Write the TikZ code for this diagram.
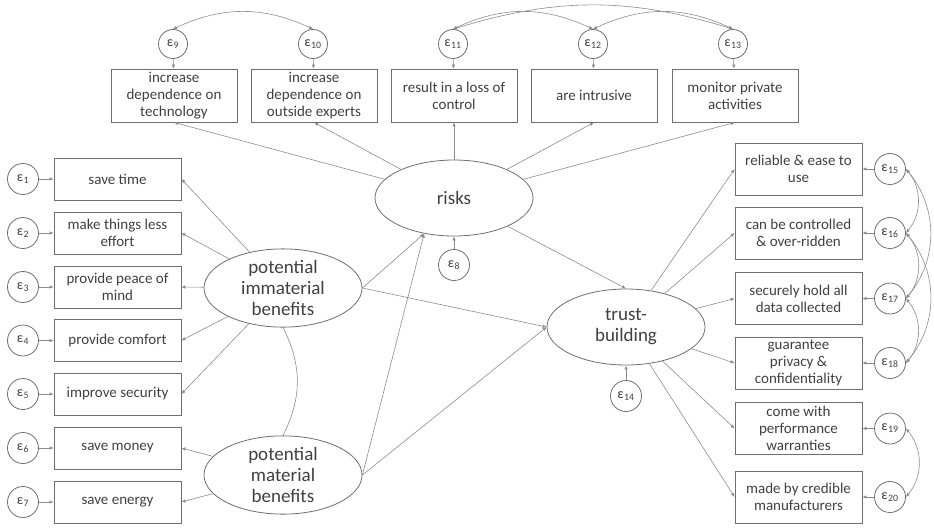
\documentclass[tikz,border=0pt]{standalone}
\usepackage{fontspec}
\setmainfont{Carlito}
\usepackage{xcolor}
\usepackage{tikz}
\usetikzlibrary{positioning,shapes.geometric,arrows.meta}

\definecolor{lineg}{HTML}{8C8C8C}
\definecolor{boxg}{HTML}{6E6E6E}
\definecolor{textg}{HTML}{404040}

% error label: epsilon with a lowered index
\newcommand{\epsi}[1]{ε\kern0.3pt\textsubscript{#1}}

\begin{document}
\begin{tikzpicture}[x=1pt, y=-1pt,
	item/.style={rectangle, draw=boxg, thick, minimum width=127pt, minimum height=42pt, inner sep=1pt, align=center, text=textg, font=\fontsize{15}{16.8}\selectfont},
	tallitem/.style={item, minimum width=126pt, minimum height=53pt},
	latent/.style={ellipse, draw=boxg, thick, minimum width=158pt, minimum height=76pt, inner sep=0pt, align=center, text=textg, font=\fontsize{19}{21}\selectfont},
	err/.style={circle, draw=boxg, thick, minimum size=31pt, inner sep=0pt, text=textg, font=\fontsize{14}{14}\selectfont},
	path/.style={-{Latex[length=4pt,width=3.5pt]}, lineg, semithick},
	cov/.style={{Latex[length=4pt,width=3.5pt]}-{Latex[length=4pt,width=3.5pt]}, lineg, semithick}
	]
	\useasboundingbox (0,0) rectangle (934,528);
	
	% ===== LATENT VARIABLES =====
	\node[latent] (imm)   at (283,288) {potential\\immaterial\\benefits};
	\node[latent] (mat)   at (283,475) {potential\\material\\benefits};
	\node[latent] (risk)  at (454,198) {risks};
	\node[latent] (trust) at (626,327) {trust-\\building};
	
	\node[err] (e8)  at (454,265) {\epsi{8}};
	\node[err] (e14) at (626,396) {\epsi{14}};
	
	% ===== LEFT INDICATORS (immaterial + material) =====
	\node[item] (b1) at (117.5,179) {save time};
	\node[item] (b2) at (117.5,233) {make things less\\effort};
	\node[item] (b3) at (117.5,287) {provide peace of\\mind};
	\node[item] (b4) at (117.5,340.5) {provide comfort};
	\node[item] (b5) at (117.5,394) {improve security};
	\node[item] (b6) at (117.5,448) {save money};
	\node[item] (b7) at (117.5,502) {save energy};
	
	\node[err] (e1) at (23,179) {\epsi{1}};
	\node[err] (e2) at (23,233) {\epsi{2}};
	\node[err] (e3) at (23,287) {\epsi{3}};
	\node[err] (e4) at (23,340.5) {\epsi{4}};
	\node[err] (e5) at (23,394) {\epsi{5}};
	\node[err] (e6) at (23,448) {\epsi{6}};
	\node[err] (e7) at (23,502) {\epsi{7}};
	
	% ===== TOP INDICATORS (risks) =====
	\node[tallitem] (r1) at (174,95.5) {increase\\dependence on\\technology};
	\node[tallitem] (r2) at (314,95.5) {increase\\dependence on\\outside experts};
	\node[tallitem] (r3) at (454,95.5) {result in a loss of\\control};
	\node[tallitem] (r4) at (594,95.5) {are intrusive};
	\node[tallitem] (r5) at (735,95.5) {monitor private\\activities};
	
	\node[err, minimum size=29pt] (e9)  at (173,44) {\epsi{9}};
	\node[err, minimum size=29pt] (e10) at (313,44) {\epsi{10}};
	\node[err, minimum size=29pt] (e11) at (453,44) {\epsi{11}};
	\node[err, minimum size=29pt] (e12) at (593,44) {\epsi{12}};
	\node[err, minimum size=29pt] (e13) at (733,44) {\epsi{13}};
	
	% ===== RIGHT INDICATORS (trust-building) =====
	\node[tallitem, minimum width=127pt, minimum height=52pt] (t1) at (798.5,169) {reliable \& ease to\\use};
	\node[tallitem, minimum width=127pt, minimum height=52pt] (t2) at (798.5,233) {can be controlled\\\& over-ridden};
	\node[tallitem, minimum width=127pt, minimum height=52pt] (t3) at (798.5,298.5) {securely hold all\\data collected};
	\node[tallitem, minimum width=127pt, minimum height=52pt] (t4) at (798.5,363) {guarantee\\privacy \&\\confidentiality};
	\node[tallitem, minimum width=127pt, minimum height=52pt] (t5) at (798.5,428.5) {come with\\performance\\warranties};
	\node[tallitem, minimum width=127pt, minimum height=52pt] (t6) at (798.5,497) {made by credible\\manufacturers};
	
	\node[err] (e15) at (890,169) {\epsi{15}};
	\node[err] (e16) at (890,233) {\epsi{16}};
	\node[err] (e17) at (890,298.5) {\epsi{17}};
	\node[err] (e18) at (890,363) {\epsi{18}};
	\node[err] (e19) at (890,428.5) {\epsi{19}};
	\node[err] (e20) at (890,497) {\epsi{20}};
	
	% ===== LOADINGS =====
	\draw[path] (imm) -- (b1.east);
	\draw[path] (imm) -- (b2.east);
	\draw[path] (imm) -- (b3.east);
	\draw[path] (imm) -- (b4.east);
	\draw[path] (imm) -- (b5.east);
	\draw[path] (mat) -- (b6.east);
	\draw[path] (mat) -- (b7.east);
	
	\draw[path] (risk) -- (r1.south);
	\draw[path] (risk) -- (r2.south);
	\draw[path] (risk) -- (r3.south);
	\draw[path] (risk) -- (r4.south);
	\draw[path] (risk) -- (r5.south);
	
	\draw[path] (trust) -- (t1.west);
	\draw[path] (trust) -- (t2.west);
	\draw[path] (trust) -- (t3.west);
	\draw[path] (trust) -- (t4.west);
	\draw[path] (trust) -- (t5.west);
	\draw[path] (trust) -- (t6.west);
	
	% ===== STRUCTURAL PATHS =====
	\draw[path] (imm.east) -- (risk.-130);
	\draw[path] (imm.east) -- (trust.west);
	\draw[path] (mat.east) -- (risk.-130);
	\draw[path] (mat.east) -- (trust.west);
	\draw[path] (risk) -- (trust.north);
	\draw[lineg, semithick] (imm.south) to[bend left=27] (mat.north);
	
	% ===== ERROR TERMS =====
	\draw[path] (e1) -- (b1);
	\draw[path] (e2) -- (b2);
	\draw[path] (e3) -- (b3);
	\draw[path] (e4) -- (b4);
	\draw[path] (e5) -- (b5);
	\draw[path] (e6) -- (b6);
	\draw[path] (e7) -- (b7);
	\draw[path] (e9) -- (r1);
	\draw[path] (e10) -- (r2);
	\draw[path] (e11) -- (r3);
	\draw[path] (e12) -- (r4);
	\draw[path] (e13) -- (r5);
	\draw[path] (e15) -- (t1);
	\draw[path] (e16) -- (t2);
	\draw[path] (e17) -- (t3);
	\draw[path] (e18) -- (t4);
	\draw[path] (e19) -- (t5);
	\draw[path] (e20) -- (t6);
	\draw[path] (e8) -- (risk);
	\draw[path] (e14) -- (trust);
	
	% ===== ERROR COVARIANCES =====
	\draw[cov] (e9.north) to[bend left=25] (e10.north);
	\draw[cov] (e11.north) to[bend left=25] (e12.north);
	\draw[cov] (e12.north) to[bend left=25] (e13.north);
	\draw[cov] (e11.north) to[bend left=17] (e13.north);
	
	\draw[cov] (e15.east) to[bend left=40] (e16.east);
	\draw[cov] (e16.east) to[bend left=40] (e17.east);
	\draw[cov] (e17.east) to[bend left=40] (e18.east);
	\draw[cov] (e15.east) to[bend left=40] (e17.east);
	\draw[cov] (e16.east) to[bend left=40] (e18.east);
	\draw[cov] (e19.east) to[bend left=40] (e20.east);
	
\end{tikzpicture}
\end{document}
